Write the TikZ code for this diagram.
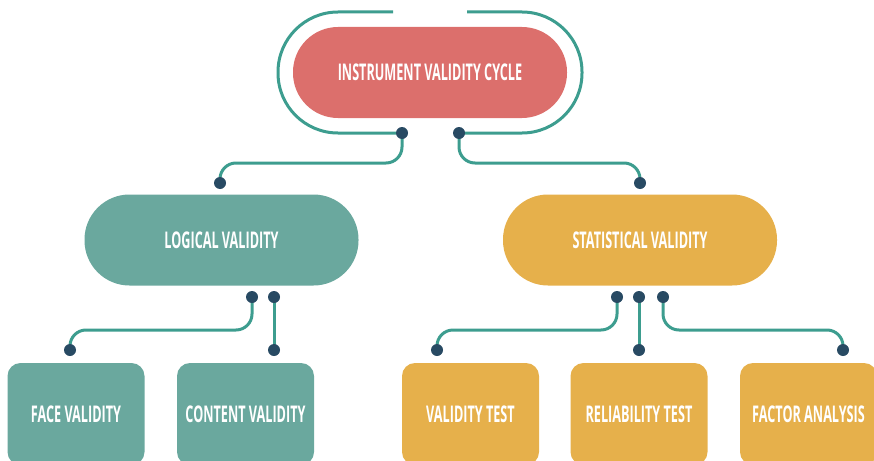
\documentclass[tikz,border=0pt]{standalone}
\usepackage{fontspec}
\setmainfont[FakeStretch=0.55]{Open Sans}
\usetikzlibrary{backgrounds}
\definecolor{rootred}{HTML}{DC6F6C}
\definecolor{leafteal}{HTML}{6AA89E}
\definecolor{leafgold}{HTML}{E6B04B}
\definecolor{wireteal}{HTML}{3D9D8F}
\definecolor{pinnavy}{HTML}{284A63}
\begin{document}
\begin{tikzpicture}[x=1pt,y=-1pt,
  pill/.style={rectangle, rounded corners=45pt, minimum width=274pt,
    minimum height=91pt, inner sep=0pt, text=white,
    font=\fontsize{23}{23}\selectfont\bfseries},
  card/.style={rectangle, rounded corners=13pt, minimum width=137pt,
    minimum height=102pt, inner sep=0pt, text=white,
    font=\fontsize{23}{23}\selectfont\bfseries},
  pin/.style={circle, fill=pinnavy, inner sep=0pt, minimum size=12pt},
  wire/.style={draw=wireteal, line width=3pt, rounded corners=16pt},
  ring/.style={draw=wireteal, line width=3pt, rounded corners=60pt}]
\useasboundingbox (0,0) rectangle (874,460);
\clip (0,0) rectangle (874,460);

% main blocks
\node[pill, fill=rootred] (root) at (430,72.5) {INSTRUMENT VALIDITY CYCLE};
\node[pill, fill=leafteal] (logic) at (221.5,240) {LOGICAL VALIDITY};
\node[pill, fill=leafgold] (stat) at (640,240) {STATISTICAL VALIDITY};

% leaf cards
\node[card, fill=leafteal] (face) at (76,414) {FACE VALIDITY};
\node[card, fill=leafteal] (content) at (245.5,414) {CONTENT VALIDITY};
\node[card, fill=leafgold] (vtest) at (470.5,414) {VALIDITY TEST};
\node[card, fill=leafgold] (rtest) at (639,414) {RELIABILITY TEST};
\node[card, fill=leafgold] (factor) at (808.5,414) {FACTOR ANALYSIS};

% connection pins
\node[pin] (r1) at (402,133) {};
\node[pin] (r2) at (459,133) {};
\node[pin] (l0) at (220,183) {};
\node[pin] (s0) at (640,183) {};
\node[pin] (l1) at (252,297) {};
\node[pin] (l2) at (274,297) {};
\node[pin] (f0) at (70,350) {};
\node[pin] (c0) at (274,350) {};
\node[pin] (s1) at (617,297) {};
\node[pin] (s2) at (639,297) {};
\node[pin] (s3) at (663,297) {};
\node[pin] (v0) at (437,350) {};
\node[pin] (t0) at (639,350) {};
\node[pin] (a0) at (843,350) {};

\begin{scope}[on background layer]
  % open ring around the root
  \coordinate (ringL) at (393,12);
  \coordinate (ringR) at (467,12);
  \path[ring] (ringL) -- (278,12) -- (278,133) -- (r1.center);
  \path[ring] (ringR) -- (582,12) -- (582,133) -- (r2.center);
  % root to branches
  \path[wire] (r1.center) -- (r1.center |- 0,163) -| (l0.center);
  \path[wire] (r2.center) -- (r2.center |- 0,163) -| (s0.center);
  % logical branch
  \path[wire] (l1.center) -- (l1.center |- 0,330) -| (f0.center);
  \path[wire] (l2.center) -- (c0.center);
  % statistical branch
  \path[wire] (s1.center) -- (s1.center |- 0,330) -| (v0.center);
  \path[wire] (s2.center) -- (t0.center);
  \path[wire] (s3.center) -- (s3.center |- 0,330) -| (a0.center);
\end{scope}
\end{tikzpicture}
\end{document}
